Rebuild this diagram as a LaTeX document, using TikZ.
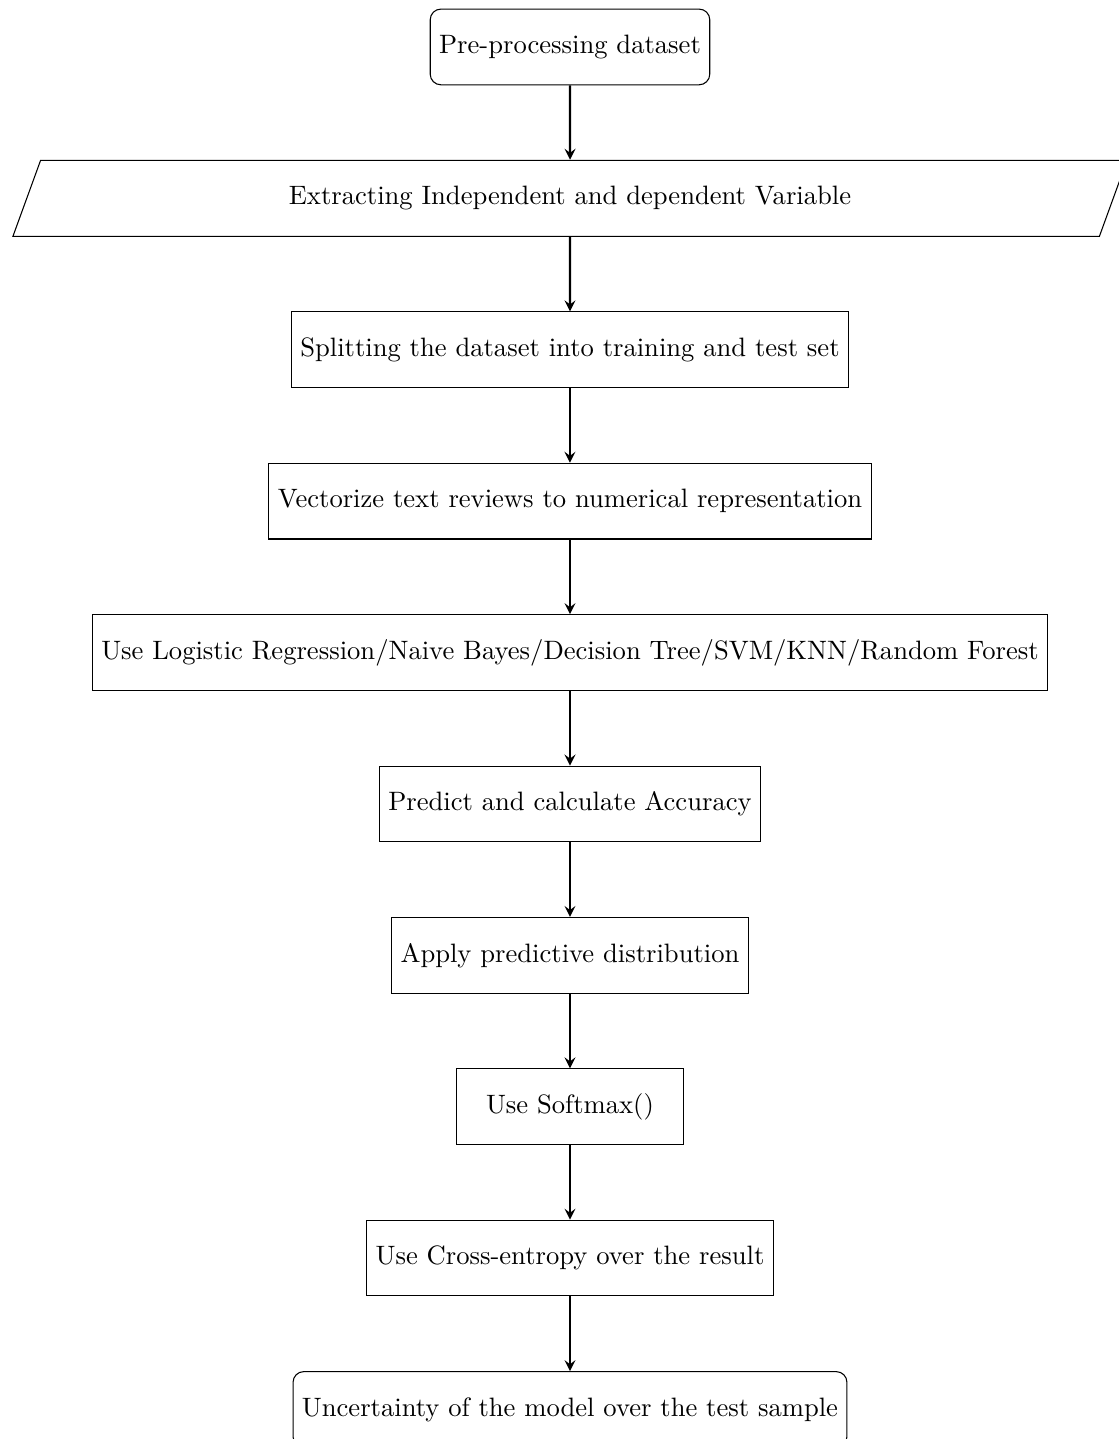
\documentclass[tikz,border=0pt]{standalone}
\usetikzlibrary{shapes.geometric,positioning,arrows}

\tikzset{
    startstop/.style={rectangle, rounded corners, minimum height=1cm, draw=black},
    io/.style={trapezium, trapezium left angle=70, trapezium right angle=110, minimum width=14.75cm, minimum height=1cm, draw=black},
    process/.style={rectangle, minimum width=3cm, minimum height=1cm, draw=black},
    arrow/.style={thick,->,>=stealth}
}

\begin{document}
\begin{tikzpicture}[node distance=2cm, on grid]
        \useasboundingbox (-7.53,0.62) rectangle (7.24,-18.39);

        \node (start) [startstop] {Pre-processing dataset};
        \node (extract) [io, below=of start] {Extracting Independent and dependent Variable};
        \node (split) [process, below=of extract] {Splitting the dataset into training and test set};
        \node (vector) [process, below=of split] {Vectorize text reviews to numerical representation};
        \node (models) [process, below=of vector] {Use Logistic Regression/Naive Bayes/Decision Tree/SVM/KNN/Random Forest};
        \node (predict) [process, below=of models] {Predict and calculate Accuracy};
        \node (distrib) [process, below=of predict] {Apply predictive distribution};
        \node (softmax) [process, below=of distrib] {Use Softmax()};
        \node (entropy) [process, below=of softmax] {Use Cross-entropy over the result};
        \node (stop) [startstop, below=of entropy] {Uncertainty of the model over the test sample};

        \draw [arrow] (start) -- (extract);
        \draw [arrow] (extract) -- (split);
        \draw [arrow] (split) -- (vector);
        \draw [arrow] (vector) -- (models);
        \draw [arrow] (models) -- (predict);
        \draw [arrow] (predict) -- (distrib);
        \draw [arrow] (distrib) -- (softmax);
        \draw [arrow] (softmax) -- (entropy);
        \draw [arrow] (entropy) -- (stop);
    \end{tikzpicture}
\end{document}
